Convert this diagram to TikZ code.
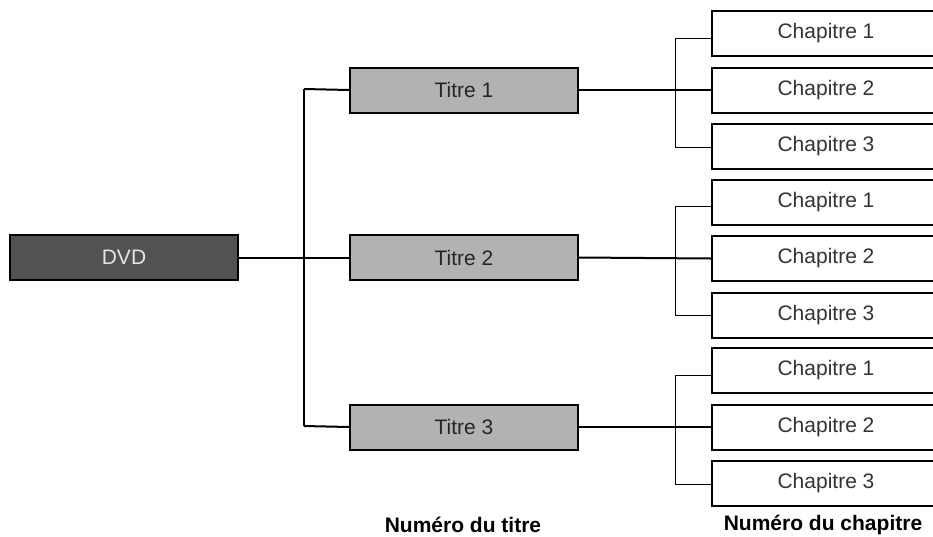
\documentclass[tikz,border=0pt]{standalone}
\usepackage{fontspec}
\setmainfont{Liberation Sans}
\begin{document}
\begin{tikzpicture}[x=1pt,y=-1pt,
  box/.style={draw=black,line width=2pt,minimum width=228pt,minimum height=45pt,inner sep=0pt,anchor=north west,font=\fontsize{21}{24}\selectfont},
  dvdbox/.style={box,fill=black!68,text=white!90!black},
  titrebox/.style={box,fill=black!30,text=black!85},
  chapbox/.style={box,fill=white,text=black!80},
  thickline/.style={line width=2pt},
  thinline/.style={line width=1pt},
  lbl/.style={font=\fontsize{21}{24}\selectfont\bfseries}]
\useasboundingbox (0,0) rectangle (933,536);
\node[dvdbox] (dvd) at (9,234) {DVD};
\node[titrebox] (t1) at (349,66.5) {Titre 1};
\node[titrebox] (t2) at (349,234) {Titre 2};
\node[titrebox] (t3) at (349,403.5) {Titre 3};
\coordinate (jt1) at (304,89);
\coordinate (jt3) at (304,426);
\draw[thickline] (dvd.east) -- (t2.west);
\draw[thickline] (jt1) -- (jt3);
\draw[thickline] (jt1) -- (t1.west);
\draw[thickline] (jt3) -- (t3.west);
\foreach \g/\y in {1/10,2/178.5,3/347}{
  \node[chapbox] (c\g a) at (711,\y) {Chapitre 1};
  \node[chapbox] (c\g b) at (711,\y+56.5) {Chapitre 2};
  \node[chapbox] (c\g c) at (711,\y+113) {Chapitre 3};
  \coordinate (v\g a) at (675,\y+28);
  \coordinate (v\g c) at (675,\y+137);
  \draw[thinline] (v\g a) -- (v\g c);
  \draw[thinline] (v\g a) -- (c\g a.west |- v\g a);
  \draw[thinline] (v\g c) -- (c\g c.west |- v\g c);
}
\draw[thickline] (t1.east) -- (c1b.west);
\draw[thickline] (t2.east) -- (c2b.west);
\draw[thickline] (t3.east) -- (c3b.west);
\node[lbl] (l1) at (463,525) {Numéro du titre};
\node[lbl] (l2) at (823,525) {Numéro du chapitre};
\end{tikzpicture}
\end{document}
